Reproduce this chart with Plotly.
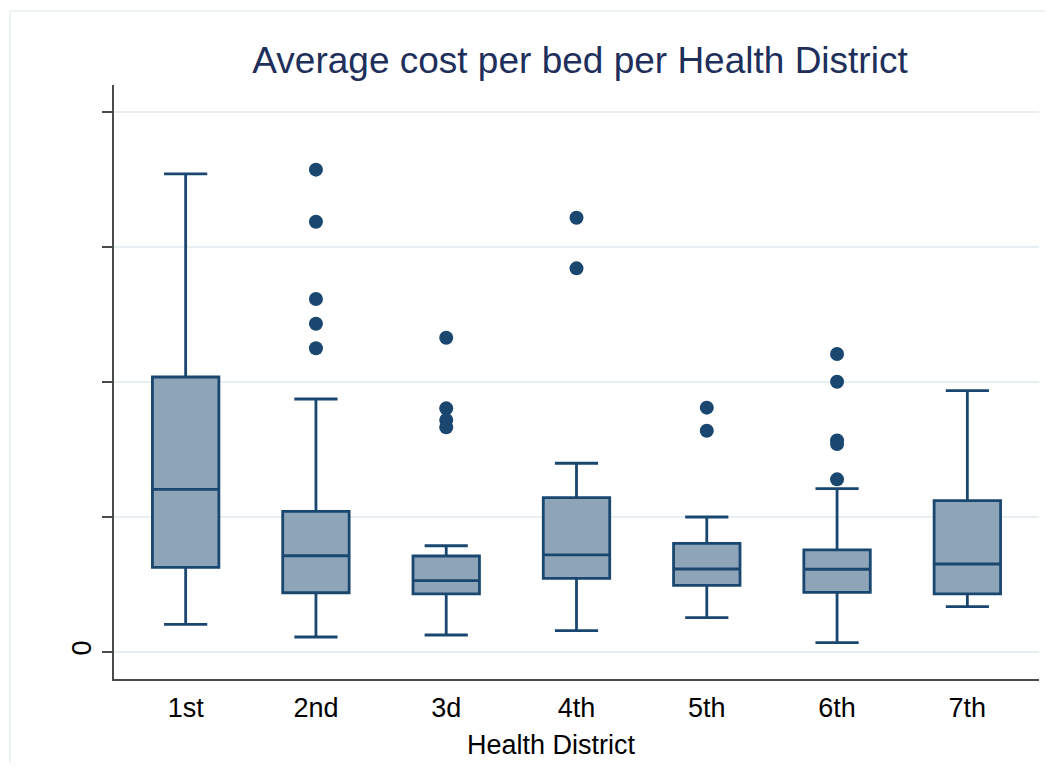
import plotly.graph_objects as go

# ── Data (y in axis units, ticks every 1) ──────────────────────────────────
DISTRICTS = ['1st', '2nd', '3d', '4th', '5th', '6th', '7th']
POS       = [0, 1, 2, 3, 4, 5, 6]

LOWER  = [0.205, 0.111, 0.126, 0.158, 0.254, 0.069, 0.336]
Q1     = [0.627, 0.439, 0.430, 0.546, 0.494, 0.442, 0.430]
MEDIAN = [1.205, 0.713, 0.528, 0.719, 0.615, 0.613, 0.652]
Q3     = [2.037, 1.042, 0.711, 1.143, 0.805, 0.756, 1.121]
UPPER  = [3.541, 1.874, 0.787, 1.398, 1.000, 1.210, 1.936]

OUT_X = [1, 1, 1, 1, 1,
         2, 2, 2, 2,
         3, 3,
         4, 4,
         5, 5, 5, 5, 5]
OUT_Y = [3.573, 3.187, 2.615, 2.432, 2.250,
         2.328, 1.805, 1.719, 1.664,
         3.217, 2.842,
         1.810, 1.639,
         2.207, 2.002, 1.567, 1.541, 1.279]

Y_TICKS      = [0, 1, 2, 3, 4]
Y_TICKLABELS = ['0', '', '', '', '']

# ── Style ──────────────────────────────────────────────────────────────────
NAVY   = '#1a476f'
FILL   = '#8ea4b8'
GRID   = '#e8eff2'
AXIS   = '#4a4a4a'
TITLE  = '#1e2f5c'
FONT   = 'Arial, Liberation Sans, sans-serif'

# page has an 8px body margin, so the figure is placed at (8, 8)
OFF = 8
W, H = 1053 - 2 * OFF, 771 - 2 * OFF
L, T = 114 - OFF, 85 - OFF
R = W - (1039 - OFF)
B = H - (679 - OFF)
PW, PH = W - L - R, H - T - B


def px_x(x):  # page pixel -> paper x
    return (x - OFF - L) / PW


def px_y(y):  # page pixel -> paper y
    return (T + PH - (y - OFF)) / PH


fig = go.Figure()

fig.add_trace(go.Box(
    x=POS,
    q1=Q1, median=MEDIAN, q3=Q3,
    lowerfence=LOWER, upperfence=UPPER,
    width=0.51,
    whiskerwidth=0.65,
    fillcolor=FILL,
    line=dict(color=NAVY, width=2.8),
    boxpoints=False,
    hoverinfo='skip',
))

fig.add_trace(go.Scatter(
    x=OUT_X, y=OUT_Y,
    mode='markers',
    marker=dict(color=NAVY, size=14, line=dict(width=0)),
    hoverinfo='skip',
))

# outer graph-region frame
fig.add_shape(
    type='rect', xref='paper', yref='paper',
    x0=px_x(10), x1=px_x(1080),
    y0=px_y(800), y1=px_y(11),
    line=dict(color=GRID, width=1.5), fillcolor='rgba(0,0,0,0)',
    layer='below',
)

fig.add_annotation(
    text='Health District',
    xref='paper', yref='paper',
    x=px_x(551), y=px_y(745),
    xanchor='center', yanchor='middle',
    showarrow=False,
    font=dict(size=27, color='#000000', family=FONT),
)

fig.update_layout(
    width=W, height=H,
    margin=dict(l=L, r=R, t=T, b=B),
    paper_bgcolor='white',
    plot_bgcolor='white',
    showlegend=False,
    font=dict(family=FONT, color='#000000'),
    title=dict(
        text='Average cost per bed per Health District',
        font=dict(size=37, color=TITLE, family=FONT),
        x=px_x(580), xref='paper', xanchor='center',
        y=1 - (60 - OFF) / H, yref='container', yanchor='middle',
    ),
)

fig.update_xaxes(
    range=[-0.55, 6.55],
    tickvals=POS, ticktext=DISTRICTS,
    tickfont=dict(size=27, color='#000000'),
    showgrid=False, zeroline=False,
    showline=True, linecolor=AXIS, linewidth=1.5,
    ticks='', ticklabelstandoff=4,
)

fig.update_yaxes(
    range=[-0.2, 4.2],
    tickvals=Y_TICKS, ticktext=Y_TICKLABELS,
    tickangle=-90,
    tickfont=dict(size=27, color='#000000'),
    showgrid=True, gridcolor=GRID, gridwidth=1.5,
    zeroline=False,
    showline=True, linecolor=AXIS, linewidth=1.5,
    ticks='outside', ticklen=10, tickcolor=AXIS, tickwidth=1.5,
    ticklabelstandoff=0,
)

fig.write_html('out.html')
